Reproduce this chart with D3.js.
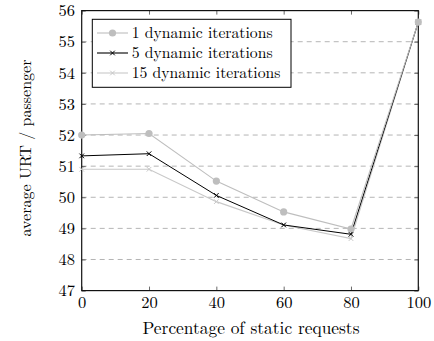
<!DOCTYPE html>
<html>
<head>
<meta charset="utf-8">
<script src="https://cdn.jsdelivr.net/npm/d3@7"></script>
<style>
  body { margin: 0; background: #fff; }
  svg { display: block; }
  svg text { font-family: "Latin Modern Roman", "CMU Serif", "Liberation Serif", serif !important; fill: #000; }
</style>
</head>
<body>
<svg id="chart" width="434" height="341"></svg>
<script>
// Percentage of static requests
const xValues = [0, 20, 40, 60, 80, 100];
// Average URT per passenger for each number of dynamic iterations
const iter1 = [52.0, 52.05, 50.52, 49.53, 48.98, 55.63];
const iter5 = [51.33, 51.4, 50.06, 49.11, 48.81, 55.63];
const iter15 = [50.9, 50.9, 49.86, 49.11, 48.67, 55.63];
const seriesNames = ["1 dynamic iterations", "5 dynamic iterations", "15 dynamic iterations"];
const xTicks = [0, 20, 40, 60, 80, 100];
const yTicks = [47, 48, 49, 50, 51, 52, 53, 54, 55, 56];

const tickFont = 16.5, legendFont = 15.7, xTitleFont = 17.4, yTitleFont = 16;
const svg = d3.select("#chart");
const plotLeft = 81.7, plotRight = 418.3, plotTop = 10.6, plotBottom = 290.6;

const x = d3.scaleLinear().domain([0, 100]).range([plotLeft, plotRight]);
const y = d3.scaleLinear().domain([47, 56]).range([plotBottom, plotTop]);

// Horizontal dashed grid
svg.append("g").selectAll("line").data(yTicks.slice(1, -1)).join("line")
  .attr("x1", plotLeft).attr("x2", plotRight)
  .attr("y1", d => y(d)).attr("y2", d => y(d))
  .attr("stroke", "#b5b5b5").attr("stroke-width", 1)
  .attr("stroke-dasharray", "5,4");

// Axes with inward ticks on all four sides
const tickColor = "#444";
function styleAxis(g) {
  g.select(".domain").remove();
  g.selectAll(".tick line").attr("stroke", tickColor).attr("stroke-width", 0.8);
}
function styleLabels(g) {
  g.selectAll("text").style("font-size", tickFont + "px").attr("fill", "#000");
}
svg.append("g").attr("transform", `translate(0,${plotBottom})`)
  .call(d3.axisBottom(x).tickValues(xTicks).tickSize(-4).tickPadding(6).tickFormat(d3.format("d")))
  .call(styleAxis).call(styleLabels);
svg.append("g").attr("transform", `translate(0,${plotTop})`)
  .call(d3.axisTop(x).tickValues(xTicks).tickSize(-4).tickFormat(""))
  .call(styleAxis);
svg.append("g").attr("transform", `translate(${plotLeft},0)`)
  .call(d3.axisLeft(y).tickValues(yTicks).tickSize(-4).tickPadding(6.7).tickFormat(d3.format("d")))
  .call(styleAxis).call(styleLabels);
svg.append("g").attr("transform", `translate(${plotRight},0)`)
  .call(d3.axisRight(y).tickValues(yTicks).tickSize(-4).tickFormat(""))
  .call(styleAxis);

// Plot frame
svg.append("rect").attr("x", plotLeft).attr("y", plotTop)
  .attr("width", plotRight - plotLeft).attr("height", plotBottom - plotTop)
  .attr("fill", "none").attr("stroke", "#111").attr("stroke-width", 1.2);

const series = [
  { name: seriesNames[0], values: iter1, color: "#bebebe", marker: "circle" },
  { name: seriesNames[1], values: iter5, color: "#000000", marker: "cross" },
  { name: seriesNames[2], values: iter15, color: "#c8c8c8", marker: "cross" }
];

const line = d3.line().x((d, i) => x(xValues[i])).y(d => y(d));

function drawMarker(g, s, cx, cy) {
  if (s.marker === "circle") {
    g.append("circle").attr("cx", cx).attr("cy", cy).attr("r", 3.6).attr("fill", s.color);
  } else {
    const r = 2.3;
    g.append("path")
      .attr("d", `M${cx - r},${cy - r}L${cx + r},${cy + r}M${cx - r},${cy + r}L${cx + r},${cy - r}`)
      .attr("stroke", s.color).attr("stroke-width", 1);
  }
}

// Draw series in reverse so the lightest line sits underneath
[series[2], series[1], series[0]].forEach(s => {
  const g = svg.append("g");
  g.append("path").datum(s.values).attr("d", line)
    .attr("fill", "none").attr("stroke", s.color).attr("stroke-width", s.color === "#000000" ? 1 : 1.1);
  s.values.forEach((v, i) => drawMarker(g, s, x(xValues[i]), y(v)));
});

// Legend
const lg = svg.append("g");
lg.append("rect").attr("x", 92.3).attr("y", 19.3).attr("width", 198.7).attr("height", 68)
  .attr("fill", "#fff").attr("stroke", "#000").attr("stroke-width", 1);
series.forEach((s, i) => {
  const cy = 33 + i * 20;
  lg.append("line").attr("x1", 97).attr("x2", 128).attr("y1", cy).attr("y2", cy)
    .attr("stroke", s.color).attr("stroke-width", 1.1);
  drawMarker(lg, s, 112.5, cy);
  lg.append("text").attr("x", 131.7).attr("y", cy + 5).style("font-size", legendFont + "px").text(s.name);
});

// Axis titles
svg.append("text").attr("x", 251).attr("y", 333.5).attr("text-anchor", "middle")
  .style("font-size", xTitleFont + "px").text("Percentage of static requests");
svg.append("text").attr("transform", "translate(30.5,148) rotate(-90)").attr("text-anchor", "middle")
  .style("font-size", yTitleFont + "px").text("average URT / passenger");
</script>
</body>
</html>
